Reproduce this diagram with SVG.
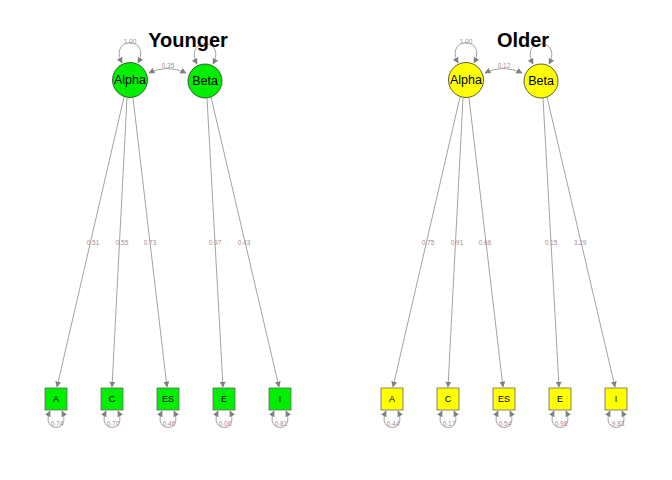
<svg xmlns="http://www.w3.org/2000/svg" width="672" height="480" viewBox="0 0 672 480">
<defs>
<marker id="ah" viewBox="0 0 10 10" refX="9" refY="5" markerWidth="6" markerHeight="6" orient="auto-start-reverse" markerUnits="userSpaceOnUse">
<path d="M0,0 L10,5 L0,10 z" fill="#7f7f7f"/>
</marker>
<style>
.e{fill:none;stroke:#8c8c8c;stroke-width:0.8}
.a{marker-end:url(#ah)}
.b{marker-start:url(#ah);marker-end:url(#ah)}
.lab{font-family:"Liberation Sans",Arial,sans-serif;font-size:6.5px;fill:#a88c94;text-anchor:middle}
.t{font-family:"Liberation Sans",Arial,sans-serif;font-weight:bold;font-size:20px;fill:#000;text-anchor:middle}
.lat{stroke:#333;stroke-width:0.8}
.man{stroke:#666;stroke-width:0.8}
.nt{font-family:"Liberation Sans",Arial,sans-serif;font-size:12.5px;fill:#000;text-anchor:middle}
.mt{font-family:"Liberation Sans",Arial,sans-serif;font-size:9px;fill:#000;text-anchor:middle}
.g{fill:#00ee00}
.y{fill:#ffff00}
</style>
</defs>
<rect width="672" height="480" fill="#fff"/>

<g id="connectors">
<!-- Younger -->
<path class="e b" d="M122,63 C108,36 152,36 138,63"/>
<path class="e b" d="M197,64 C183,37 227,37 213,64"/>
<path class="e b" d="M149,73 Q167,64 186,73"/>
<line class="e a" x1="124" y1="97" x2="57" y2="387"/>
<line class="e a" x1="127" y1="98" x2="112" y2="387"/>
<line class="e a" x1="133" y1="98" x2="167" y2="387"/>
<line class="e a" x1="207" y1="98" x2="223" y2="387"/>
<line class="e a" x1="211" y1="97" x2="279" y2="387"/>
<path class="e b" d="M50,411 C40,433 72,433 62,411"/>
<path class="e b" d="M106,411 C96,433 128,433 118,411"/>
<path class="e b" d="M162,411 C152,433 184,433 174,411"/>
<path class="e b" d="M218,411 C208,433 240,433 230,411"/>
<path class="e b" d="M274,411 C264,433 296,433 286,411"/>
<!-- Older -->
<path class="e b" d="M458,63 C444,36 488,36 474,63"/>
<path class="e b" d="M533,64 C519,37 563,37 549,64"/>
<path class="e b" d="M485,73 Q503,64 522,73"/>
<line class="e a" x1="460" y1="97" x2="393" y2="387"/>
<line class="e a" x1="463" y1="98" x2="448" y2="387"/>
<line class="e a" x1="469" y1="98" x2="503" y2="387"/>
<line class="e a" x1="543" y1="98" x2="559" y2="387"/>
<line class="e a" x1="547" y1="97" x2="615" y2="387"/>
<path class="e b" d="M386,411 C376,433 408,433 398,411"/>
<path class="e b" d="M442,411 C432,433 464,433 454,411"/>
<path class="e b" d="M498,411 C488,433 520,433 510,411"/>
<path class="e b" d="M554,411 C544,433 576,433 566,411"/>
<path class="e b" d="M610,411 C600,433 632,433 622,411"/>
</g>

<g id="labels">
<text class="lab" x="130" y="44">1.00</text>
<text class="lab" x="168" y="68">0.35</text>
<text class="lab" x="93" y="245">0.51</text>
<text class="lab" x="122" y="245">0.55</text>
<text class="lab" x="150" y="245">0.73</text>
<text class="lab" x="215" y="245">0.97</text>
<text class="lab" x="244" y="245">0.43</text>
<text class="lab" x="57" y="426">0.74</text>
<text class="lab" x="113" y="426">0.70</text>
<text class="lab" x="169" y="426">0.46</text>
<text class="lab" x="225" y="426">0.06</text>
<text class="lab" x="281" y="426">0.81</text>
<text class="lab" x="466" y="44">1.00</text>
<text class="lab" x="504" y="68">0.12</text>
<text class="lab" x="428" y="245">0.75</text>
<text class="lab" x="457" y="245">0.91</text>
<text class="lab" x="485" y="245">0.66</text>
<text class="lab" x="551" y="245">0.15</text>
<text class="lab" x="580" y="245">3.29</text>
<text class="lab" x="393" y="426">0.44</text>
<text class="lab" x="449" y="426">0.17</text>
<text class="lab" x="505" y="426">0.54</text>
<text class="lab" x="561" y="426">0.98</text>
<text class="lab" x="617" y="426">-9.83</text>
</g>

<text class="t" x="188" y="47">Younger</text>
<text class="t" x="523" y="47">Older</text>

<g id="y_alpha"><circle class="g lat" cx="130" cy="80" r="17.5"/><text class="nt" x="130" y="84">Alpha</text></g>
<g id="y_beta"><circle class="g lat" cx="205" cy="81" r="17"/><text class="nt" x="205" y="85">Beta</text></g>
<g id="y_A"><rect class="g man" x="45" y="388" width="22" height="22"/><text class="mt" x="56" y="402">A</text></g>
<g id="y_C"><rect class="g man" x="101" y="388" width="22" height="22"/><text class="mt" x="112" y="402">C</text></g>
<g id="y_ES"><rect class="g man" x="157" y="388" width="22" height="22"/><text class="mt" x="168" y="402">ES</text></g>
<g id="y_E"><rect class="g man" x="213" y="388" width="22" height="22"/><text class="mt" x="224" y="402">E</text></g>
<g id="y_I"><rect class="g man" x="269" y="388" width="22" height="22"/><text class="mt" x="280" y="402">I</text></g>

<g id="o_alpha"><circle class="y lat" cx="466" cy="80" r="17.5"/><text class="nt" x="466" y="84">Alpha</text></g>
<g id="o_beta"><circle class="y lat" cx="541" cy="81" r="17"/><text class="nt" x="541" y="85">Beta</text></g>
<g id="o_A"><rect class="y man" x="381" y="388" width="22" height="22"/><text class="mt" x="392" y="402">A</text></g>
<g id="o_C"><rect class="y man" x="437" y="388" width="22" height="22"/><text class="mt" x="448" y="402">C</text></g>
<g id="o_ES"><rect class="y man" x="493" y="388" width="22" height="22"/><text class="mt" x="504" y="402">ES</text></g>
<g id="o_E"><rect class="y man" x="549" y="388" width="22" height="22"/><text class="mt" x="560" y="402">E</text></g>
<g id="o_I"><rect class="y man" x="605" y="388" width="22" height="22"/><text class="mt" x="616" y="402">I</text></g>
</svg>
